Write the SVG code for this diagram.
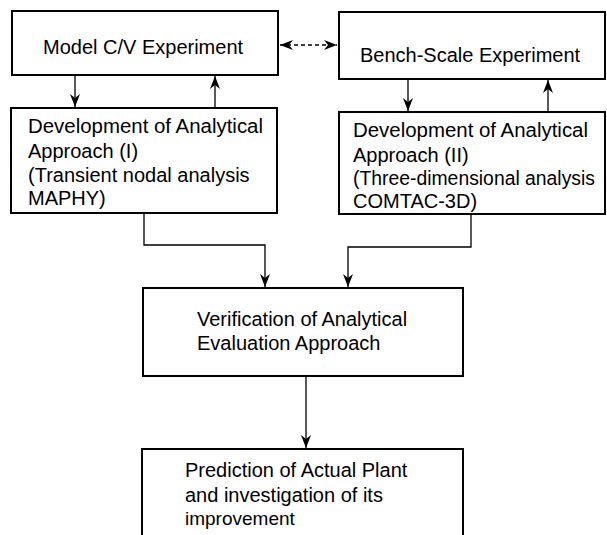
<svg xmlns="http://www.w3.org/2000/svg" width="607" height="535" viewBox="0 0 607 535">
<style>
.box{fill:#fff;stroke:#000;stroke-width:2}
.t{font-family:"Liberation Sans",Arial,sans-serif;font-size:20px;fill:#000}
.c{fill:none;stroke:#000;stroke-width:1.3}
</style>
<defs>
<marker id="ah" viewBox="0 0 13 10" refX="13" refY="5" markerWidth="13" markerHeight="10" markerUnits="userSpaceOnUse" orient="auto-start-reverse">
<path d="M0,0 L13,5 L0,10 L4,5 Z" fill="#000"/>
</marker>
</defs>
<rect width="607" height="535" fill="#fff"/>
<g id="connectors">
<path class="c" d="M280,45 H337" stroke-dasharray="4,3" marker-start="url(#ah)" marker-end="url(#ah)"/>
<path class="c" d="M75,75 V107" marker-end="url(#ah)"/>
<path class="c" d="M215,107 V76" marker-end="url(#ah)"/>
<path class="c" d="M408,80 V111" marker-end="url(#ah)"/>
<path class="c" d="M548,111 V80" marker-end="url(#ah)"/>
<path class="c" d="M144,213 V245 H265 V287" marker-end="url(#ah)"/>
<path class="c" d="M471,214 V247 H348 V287" marker-end="url(#ah)"/>
<path class="c" d="M306,376 V448" marker-end="url(#ah)"/>
</g>
<g id="model">
<rect class="box" x="12" y="11" width="266" height="64"/>
<text class="t" x="43" y="54">Model C/V Experiment</text>
</g>
<g id="bench">
<rect class="box" x="339" y="12" width="266" height="67"/>
<text class="t" x="360" y="62">Bench-Scale Experiment</text>
</g>
<g id="dev1">
<rect class="box" x="11" y="108" width="266" height="105"/>
<text class="t" x="28" y="133" textLength="235" lengthAdjust="spacingAndGlyphs">Development of Analytical</text>
<text class="t" x="28" y="158">Approach (I)</text>
<text class="t" x="28" y="182">(Transient nodal analysis</text>
<text class="t" x="28" y="205">MAPHY)</text>
</g>
<g id="dev2">
<rect class="box" x="339" y="112" width="266" height="102"/>
<text class="t" x="353" y="137" textLength="235" lengthAdjust="spacingAndGlyphs">Development of Analytical</text>
<text class="t" x="353" y="162">Approach (II)</text>
<text class="t" x="353" y="185" textLength="242" lengthAdjust="spacingAndGlyphs">(Three-dimensional analysis</text>
<text class="t" x="353" y="208">COMTAC-3D)</text>
</g>
<g id="verify">
<rect class="box" x="143" y="288" width="320" height="88"/>
<text class="t" x="197" y="326">Verification of Analytical</text>
<text class="t" x="197" y="350">Evaluation Approach</text>
</g>
<g id="predict">
<rect class="box" x="142" y="449" width="321" height="100"/>
<text class="t" x="185" y="477">Prediction of Actual Plant</text>
<text class="t" x="185" y="502">and investigation of its</text>
<text class="t" x="185" y="525" style="font-size:19px">improvement</text>
</g>
</svg>
